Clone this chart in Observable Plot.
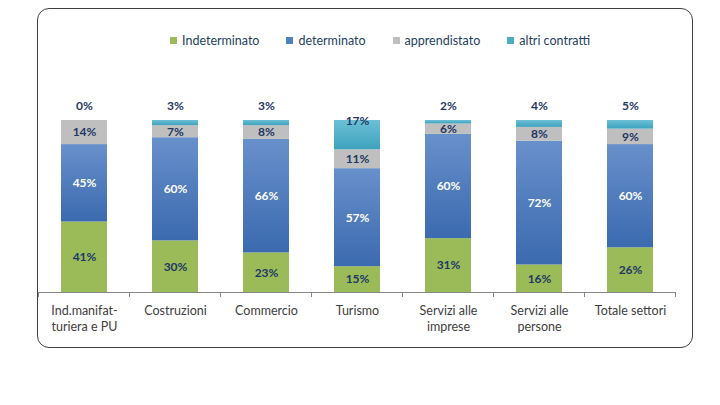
<!DOCTYPE html>
<html><head><meta charset="utf-8">
<script src="https://cdn.jsdelivr.net/npm/d3@7"></script>
<script src="https://cdn.jsdelivr.net/npm/@observablehq/plot@0.6"></script>
<style>
body{margin:0;background:#fff;font-family:Lato,"Open Sans",sans-serif;}
#wrap{position:relative;width:720px;height:405px;overflow:hidden;}
#frame{position:absolute;left:37px;top:8px;width:654px;height:338px;border:1px solid #404040;border-radius:12px;pointer-events:none;}
#legend{position:absolute;left:170px;top:32px;display:flex;gap:27px;font-size:12.5px;color:#243F60;height:16px;align-items:center;}
#legend span.sw{display:inline-block;width:7px;height:7px;margin-right:5px;vertical-align:middle;position:relative;top:-1px;}
#chart{position:absolute;left:0;top:52px;}
</style></head>
<body><div id="wrap"><div id="legend"></div><div id="chart"></div><div id="frame"></div></div>
<script>
const categories = ["Ind.manifat-\nturiera e PU","Costruzioni","Commercio","Turismo","Servizi alle\nimprese","Servizi alle\npersone","Totale settori"];
const seriesNames = ["Indeterminato","determinato","apprendistato","altri contratti"];
const indeterminato = [41,30,23,15,31,16,26];
const determinato = [45,60,66,57,60,72,60];
const apprendistato = [14,7,8,11,6,8,9];
const altri = [0,3,3,17,2,4,5];
const seriesColors = ["#9BBB59","url(#gBlue)","#BFBFBF","url(#gCyan)"];
const legendColors = ["#9BBB59","#4F81BD","#BFBFBF","#4BACC6"];

const seriesValues = [indeterminato, determinato, apprendistato, altri];
const rows = [];
categories.forEach((c,i)=>seriesNames.forEach((s,j)=>rows.push({cat:c,series:s,value:seriesValues[j][i]})));

const lg = document.getElementById("legend");
seriesNames.forEach((s,j)=>{const d=document.createElement("div");d.innerHTML=`<span class="sw" style="background:${legendColors[j]}"></span>${s}`;lg.appendChild(d);});

const stackOpts = {x:"cat", y:"value", z:"series", offset:"normalize"};
const dark = "#1F3864";
const W = 720, H = 353;
const plot = Plot.plot({
  width: W, height: H,
  marginLeft: 37, marginRight: 44, marginTop: 68, marginBottom: 113,
  style:{fontFamily:"Lato, 'Open Sans', sans-serif", overflow:"visible", background:"transparent"},
  x:{domain:categories, paddingInner:0.5, paddingOuter:0.25, label:null},
  y:{domain:[0,1], axis:null},
  color:{domain:seriesNames, range:seriesColors},
  marks:[
    Plot.barY(rows, Plot.stackY({...stackOpts, fill:"series"})),
    Plot.text(rows, Plot.stackY({...stackOpts, text:d=>d.series==="determinato"?d.value+"%":"", fill:"white", fontWeight:"bold", fontSize:12})),
    Plot.text(rows, Plot.stackY({...stackOpts, text:d=>(d.series==="Indeterminato"||d.series==="apprendistato")?d.value+"%":"", fill:dark, fontWeight:"bold", fontSize:12})),
    Plot.text(rows, Plot.stackY2({...stackOpts, text:d=>(d.series==="altri contratti"&&d.value<10)?d.value+"%":"", fill:dark, fontWeight:"bold", fontSize:12, dy:-14})),
    Plot.text(rows, Plot.stackY2({...stackOpts, text:d=>(d.series==="altri contratti"&&d.value>=10)?d.value+"%":"", fill:dark, fontWeight:"bold", fontSize:12, dy:1})),
    Plot.ruleY([0], {stroke:"#868686"}),
    Plot.axisX({tickSize:0, tickPadding:11, fontSize:12.5, color:"#404040", label:null, lineHeight:1.3})
  ]
});
// gradients and band-boundary ticks from the x scale
const svg = d3.select(plot);
const defs = svg.insert("defs",":first-child");
const gb = defs.append("linearGradient").attr("id","gBlue").attr("x1",0).attr("y1",0).attr("x2",0).attr("y2",1);
gb.append("stop").attr("offset","0%").attr("stop-color","#6890CB");
gb.append("stop").attr("offset","100%").attr("stop-color","#3B6AAF");
const gc = defs.append("linearGradient").attr("id","gCyan").attr("x1",0).attr("y1",0).attr("x2",0).attr("y2",1);
gc.append("stop").attr("offset","0%").attr("stop-color","#6CC0D5");
gc.append("stop").attr("offset","100%").attr("stop-color","#3DA2BE");
const xs = plot.scale("x"), ys = plot.scale("y");
const step = xs.step;
const y0 = ys.apply(0);
const bounds = categories.map(c=>xs.apply(c)-(step-xs.bandwidth)/2);
bounds.push(bounds[bounds.length-1]+step);
bounds.forEach(b=>svg.append("line").attr("x1",b).attr("x2",b).attr("y1",y0).attr("y2",y0+5).attr("stroke","#868686"));
document.getElementById("chart").appendChild(plot);
</script></body></html>
